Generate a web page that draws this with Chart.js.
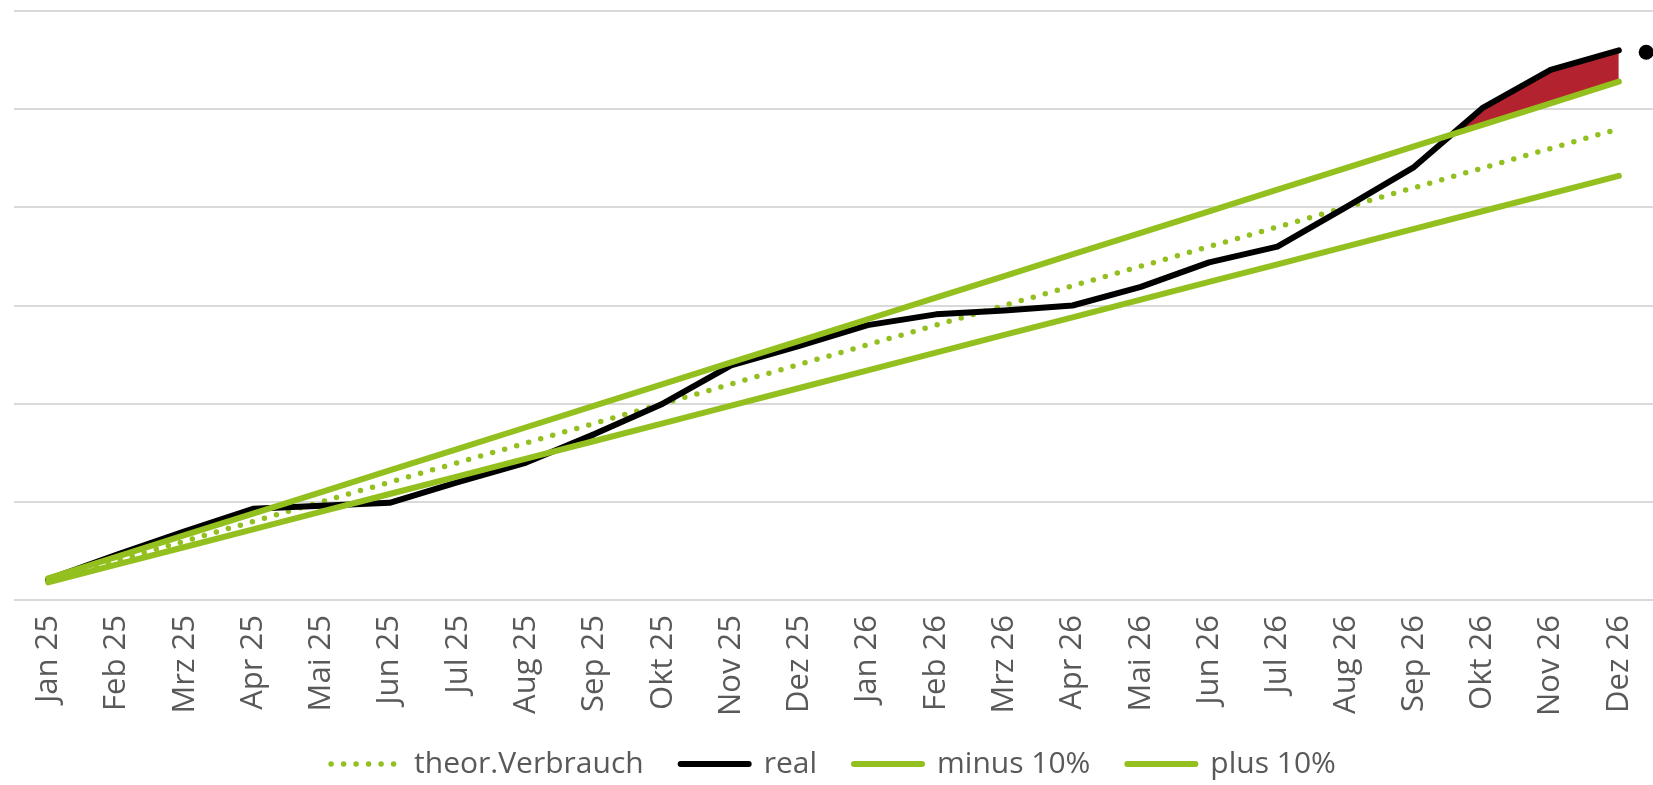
<!DOCTYPE html>
<html>
<head>
<meta charset="utf-8">
<script src="https://cdn.jsdelivr.net/npm/chart.js@4.4.1/dist/chart.umd.min.js"></script>
<style>
  html, body { margin: 0; padding: 0; background: #fff; }
  #wrap { width: 1653px; height: 785px; position: relative; }
</style>
</head>
<body>
<div id="wrap"><canvas id="verbrauchChart"></canvas></div>
<script>
const monate = ['Jan 25', 'Feb 25', 'Mrz 25', 'Apr 25', 'Mai 25', 'Jun 25', 'Jul 25', 'Aug 25', 'Sep 25', 'Okt 25', 'Nov 25', 'Dez 25',
  'Jan 26', 'Feb 26', 'Mrz 26', 'Apr 26', 'Mai 26', 'Jun 26', 'Jul 26', 'Aug 26', 'Sep 26', 'Okt 26', 'Nov 26', 'Dez 26'];

const theorVerbrauch = [200, 400, 600, 800, 1000, 1200, 1400, 1600, 1800, 2000, 2200, 2400,
  2600, 2800, 3000, 3200, 3400, 3600, 3800, 4000, 4200, 4400, 4600, 4800];

const realVerbrauch = [210, 460, 700, 930, 960, 990, 1200, 1400, 1690, 2000, 2390, 2590,
  2800, 2910, 2950, 3000, 3190, 3440, 3600, 4000, 4410, 5010, 5400, 5600];

const minus10 = [180, 360, 540, 720, 900, 1080, 1260, 1440, 1620, 1800, 1980, 2160,
  2340, 2520, 2700, 2880, 3060, 3240, 3420, 3600, 3780, 3960, 4140, 4320];

const plus10 = [220, 440, 660, 880, 1100, 1320, 1540, 1760, 1980, 2200, 2420, 2640,
  2860, 3080, 3300, 3520, 3740, 3960, 4180, 4400, 4620, 4840, 5060, 5280];

// einzelner Punkt rechts neben Dez 26
const endPunkt = [{ x: 23.4, y: 5580 }];

const gruen = '#93c01f';
const textFarbe = '#595959';

const ctx = document.getElementById('verbrauchChart');
new Chart(ctx, {
  type: 'line',
  data: {
    labels: monate,
    datasets: [
      {
        label: 'theor.Verbrauch',
        data: theorVerbrauch,
        borderColor: gruen,
        borderWidth: 5.5,
        borderDash: [0, 12.5],
        borderCapStyle: 'round',
        pointRadius: 0,
        pointStyle: 'line',
        order: 4
      },
      {
        label: 'real',
        data: realVerbrauch,
        borderColor: '#000000',
        borderWidth: 6,
        borderJoinStyle: 'round',
        borderCapStyle: 'round',
        pointRadius: 0,
        pointStyle: 'line',
        fill: { target: 3, above: '#b3232f', below: 'rgba(0,0,0,0)' },
        order: 3
      },
      {
        label: 'minus 10%',
        data: minus10,
        borderColor: gruen,
        borderWidth: 6,
        borderCapStyle: 'round',
        pointRadius: 0,
        pointStyle: 'line',
        order: 2
      },
      {
        label: 'plus 10%',
        data: plus10,
        borderColor: gruen,
        borderWidth: 6,
        borderCapStyle: 'round',
        pointRadius: 0,
        pointStyle: 'line',
        order: 1
      },
      {
        type: 'scatter',
        label: 'punkt',
        data: endPunkt,
        xAxisID: 'x2',
        pointRadius: 7.5,
        backgroundColor: '#000000',
        borderWidth: 0,
        clip: false,
        order: 0
      }
    ]
  },
  options: {
    responsive: true,
    maintainAspectRatio: false,
    animation: false,
    layout: {
      autoPadding: false,
      padding: { left: 14, right: 0, top: 11, bottom: -4 }
    },
    plugins: {
      filler: { drawTime: 'beforeDatasetsDraw' },
      tooltip: { enabled: false },
      legend: {
        position: 'bottom',
        labels: {
          usePointStyle: true,
          pointStyleWidth: 68,
          padding: 37,
          color: textFarbe,
          font: { family: 'Open Sans', size: 30 },
          filter: (item) => item.datasetIndex < 4,
          sort: (a, b) => a.datasetIndex - b.datasetIndex,
          generateLabels: (chart) => {
            const items = Chart.defaults.plugins.legend.labels.generateLabels(chart);
            items.forEach((item) => {
              const ds = chart.data.datasets[item.datasetIndex];
              item.lineDash = ds.borderDash || [];
              item.lineCap = 'round';
              item.lineWidth = ds.borderWidth;
              item.strokeStyle = ds.borderColor;
            });
            return items;
          }
        }
      }
    },
    scales: {
      x: {
        offset: true,
        grid: { display: false },
        border: { display: false },
        ticks: {
          autoSkip: false,
          minRotation: 90,
          maxRotation: 90,
          padding: 7,
          color: textFarbe,
          font: { family: 'Open Sans', size: 31 }
        },
        beforeFit: (scale) => {
          // keine Randabstände für die gedrehten Beschriftungen
          scale._calculatePadding = function () {
            this.paddingLeft = 0;
            this.paddingRight = 0;
          };
        },
        afterFit: (scale) => {
          scale.height -= 11;
          // Beschriftungen nicht auf die verkleinerte Achse beschneiden
          scale._computeLabelArea = () => undefined;
        }
      },
      x2: {
        type: 'linear',
        display: false,
        min: -0.5,
        max: 23.5
      },
      y: {
        min: 0,
        max: 6000,
        ticks: { display: false, stepSize: 1000 },
        grid: { color: '#d9d9d9', lineWidth: 2, drawTicks: false },
        border: { display: false }
      }
    }
  }
});
</script>
</body>
</html>
